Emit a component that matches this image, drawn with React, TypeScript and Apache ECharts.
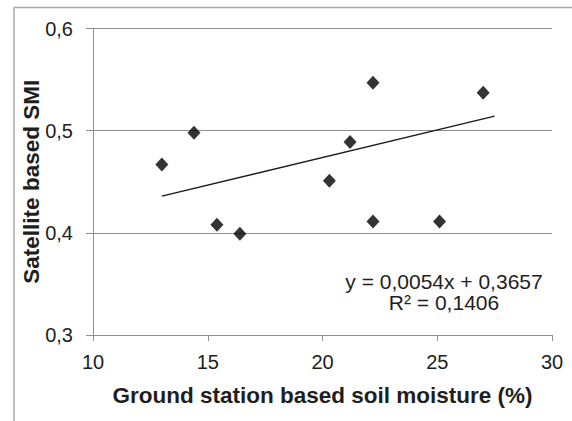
import React, { useEffect, useRef } from "react";
import * as echarts from "echarts";

const pointX = [13.0, 14.4, 15.4, 16.4, 20.3, 21.2, 22.2, 22.2, 25.1, 27.0];
const pointY = [0.467, 0.498, 0.408, 0.399, 0.451, 0.489, 0.547, 0.411, 0.411, 0.537];
const trendSlope = 0.0054;
const trendIntercept = 0.3657;
const trendX = [13.0, 27.5];
const equationLines = ["y = 0,0054x + 0,3657", "R² = 0,1406"];
const xTitle = "Ground station based soil moisture (%)";
const yTitle = "Satellite based SMI";

export default function App() {
  const ref = useRef<HTMLDivElement>(null);
  useEffect(() => {
    if (!ref.current) return;
    const chart = echarts.init(ref.current, undefined, { renderer: "svg" });
    const font = "'Liberation Sans', Arial, sans-serif";
    const textColor = "#1e1e1e";
    const gray = "#8f8f8f";
    chart.setOption({
      animation: false,
      backgroundColor: "#ffffff",
      grid: { left: 93, top: 28.5, right: 20, bottom: 86, containLabel: false },
      xAxis: {
        type: "value",
        min: 10,
        max: 30,
        interval: 5,
        name: xTitle,
        nameLocation: "middle",
        nameGap: 49,
        nameMoveOverlap: false,
        nameTextStyle: { fontFamily: font, fontSize: 22.5, fontWeight: "bold", color: textColor },
        axisLine: { show: true, lineStyle: { color: gray, width: 1 } },
        axisTick: { show: true, length: 6, lineStyle: { color: gray } },
        axisLabel: { margin: 17, fontFamily: font, fontSize: 20, color: textColor },
        splitLine: { show: false },
      },
      yAxis: {
        type: "value",
        min: 0.3,
        max: 0.6,
        interval: 0.1,
        name: yTitle,
        nameLocation: "middle",
        nameGap: 50,
        nameMoveOverlap: false,
        nameTextStyle: { fontFamily: font, fontSize: 22.5, fontWeight: "bold", color: textColor },
        axisLine: { show: true, lineStyle: { color: gray, width: 1 } },
        axisTick: { show: true, length: 7, lineStyle: { color: gray } },
        axisLabel: {
          margin: 20,
          fontFamily: font,
          fontSize: 20,
          color: textColor,
          formatter: (v: number) => v.toFixed(1).replace(".", ","),
        },
        splitLine: { show: true, lineStyle: { color: gray, width: 1 } },
      },
      series: [
        {
          type: "line",
          data: trendX.map((x) => [x, trendIntercept + trendSlope * x]),
          symbol: "none",
          lineStyle: { color: "#1a1a1a", width: 1.3 },
          z: 2,
        },
        {
          type: "scatter",
          data: pointX.map((x, i) => [x, pointY[i]]),
          symbol: "diamond",
          symbolSize: [13, 14],
          itemStyle: { color: "#000000" },
          z: 3,
        },
      ],
      graphic: [
        { type: "line", shape: { x1: 14, y1: 7.5, x2: 572, y2: 7.5 }, style: { stroke: "#a8a8a8", lineWidth: 1.5 } },
        { type: "line", shape: { x1: 14, y1: 7.5, x2: 14, y2: 421 }, style: { stroke: "#a8a8a8", lineWidth: 1.5 } },
        {
          type: "text",
          x: 444,
          y: 281.5,
          style: {
            text: equationLines[0],
            fontFamily: font,
            fontSize: 21,
            fill: textColor,
            textAlign: "center",
            textVerticalAlign: "middle",
          },
        },
        {
          type: "text",
          x: 444,
          y: 302.5,
          style: {
            text: equationLines[1],
            fontFamily: font,
            fontSize: 21,
            fill: textColor,
            textAlign: "center",
            textVerticalAlign: "middle",
          },
        },
      ],
    });
    return () => chart.dispose();
  }, []);
  return (
    <div
      ref={ref}
      style={{ position: "absolute", left: 0, top: 0, width: 572, height: 421, background: "#fff" }}
    />
  );
}
